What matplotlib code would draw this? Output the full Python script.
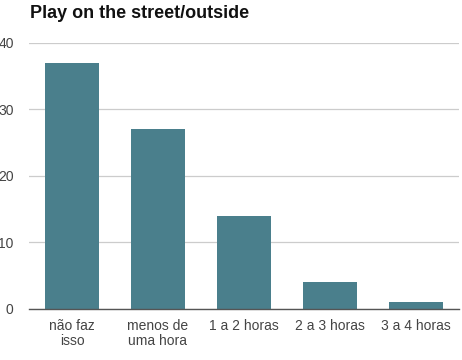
import matplotlib
matplotlib.use("Agg")
import matplotlib.pyplot as plt

categories = ["não faz\nisso", "menos de\numa hora", "1 a 2 horas", "2 a 3 horas", "3 a 4 horas"]
values = [37, 27, 14, 4, 1]
yticks = [0, 10, 20, 30, 40]

plt.rcParams['font.family'] = ['Liberation Sans', 'DejaVu Sans']
fig = plt.figure(figsize=(4.62, 3.6), dpi=100)
ax = fig.add_axes([29/462, 1-309/360, 430/462, 266/360])
x = list(range(len(categories)))
ax.bar(x, values, width=0.62, color="#4a7f8c", zorder=3)
ax.set_xlim(-0.5, len(categories)-0.5)
ax.set_ylim(0, 40)
ax.set_yticks(yticks)
ax.set_yticklabels([str(v) for v in yticks])
ax.set_xticks(x)
ax.set_xticklabels(categories, linespacing=1.15)
ax.grid(axis='y', color='#cccccc', linewidth=0.9, zorder=0)
for s in ['top', 'right', 'left']:
    ax.spines[s].set_visible(False)
ax.spines['bottom'].set_color('#555555')
ax.spines['bottom'].set_linewidth(1.0)
ax.spines['bottom'].set_zorder(4)
ax.tick_params(axis='both', length=0, colors='#444444', labelsize=10)
ax.tick_params(axis='y', pad=11)
ax.tick_params(axis='x', pad=7)
for lab in ax.get_yticklabels():
    lab.set_horizontalalignment('right')
fig.text(30/462, 1-14/360, "Play on the street/outside", fontsize=13, fontweight='bold',
         ha='left', va='center', color='#111111')
fig.savefig("out.png", dpi=100)
